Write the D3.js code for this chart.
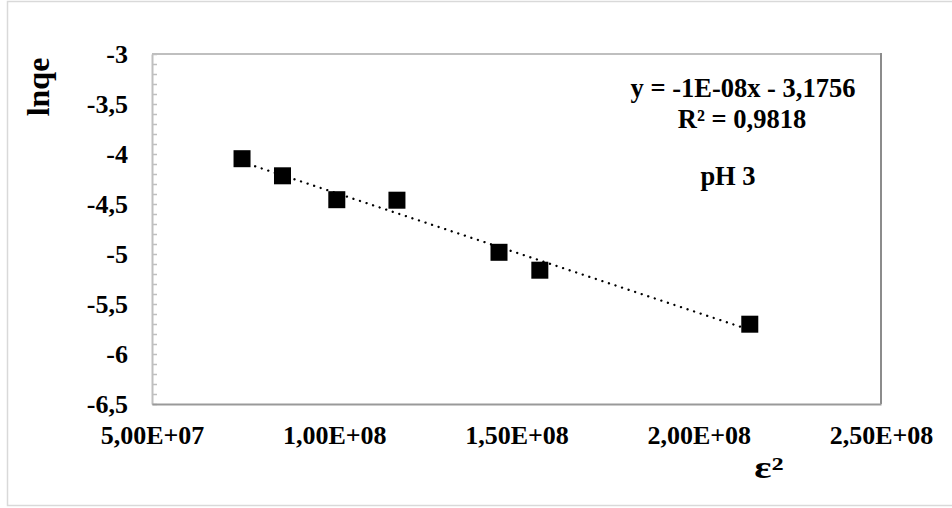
<!DOCTYPE html>
<html>
<head>
<meta charset="utf-8">
<script src="https://cdn.jsdelivr.net/npm/d3@7"></script>
<style>
  html, body { margin: 0; padding: 0; background: #fff; }
  svg { display: block; }
</style>
</head>
<body>
<svg id="chart" width="952" height="508"></svg>
<script>
// Dubinin–Radushkevich plot at pH 3: ln qe against epsilon squared
const epsSquared = [7.47e7, 8.58e7, 1.007e8, 1.172e8, 1.452e8, 1.564e8, 2.14e8];
const lnQe       = [-4.047, -4.218, -4.457, -4.462, -4.983, -5.162, -5.702];

const xTickValues = [5e7, 1e8, 1.5e8, 2e8, 2.5e8];
const xTickLabels = ["5,00E+07", "1,00E+08", "1,50E+08", "2,00E+08", "2,50E+08"];
const yTickValues = [-3, -3.5, -4, -4.5, -5, -5.5, -6, -6.5];
const yTickLabels = ["-3", "-3,5", "-4", "-4,5", "-5", "-5,5", "-6", "-6,5"];
const yMinorValues = d3.range(-65, -29).map(v => v / 10);

const equationText = "y = -1E-08x - 3,1756";
const r2Text = "R² = 0,9818";
const seriesLabel = "pH 3";

const FONT = "'Liberation Serif', 'Times New Roman', serif";
const svg = d3.select("#chart");

// outer chart frame
svg.append("rect")
  .attr("x", 7.5).attr("y", 1.5).attr("width", 960).attr("height", 504)
  .attr("fill", "#fff").attr("stroke", "#d9d9d9").attr("stroke-width", 1.5);

const plot = { left: 152, right: 881, top: 54, bottom: 404 };

const x = d3.scaleLinear().domain([5e7, 2.5e8]).range([plot.left, plot.right]);
const y = d3.scaleLinear().domain([-6.5, -3]).range([plot.bottom, plot.top]);

// plot area borders
svg.append("line").attr("x1", plot.left).attr("x2", plot.right)
  .attr("y1", plot.top).attr("y2", plot.top)
  .attr("stroke", "#bfbfbf").attr("stroke-width", 2);
svg.append("line").attr("x1", plot.right).attr("x2", plot.right)
  .attr("y1", plot.top - 1).attr("y2", plot.bottom)
  .attr("stroke", "#8c8c8c").attr("stroke-width", 2);

// minor ticks, pointing into the plot area
const minorAxis = svg.append("g")
  .attr("transform", `translate(${plot.left},0)`)
  .call(d3.axisRight(y).tickValues(yMinorValues).tickSize(5).tickFormat(""));
minorAxis.select(".domain").remove();
minorAxis.selectAll(".tick line").attr("stroke", "#bfbfbf").attr("stroke-width", 1.5);

// y axis with labels
const yAxis = svg.append("g")
  .attr("transform", `translate(${plot.left},0)`)
  .call(d3.axisLeft(y).tickValues(yTickValues).tickSize(0).tickPadding(24)
    .tickFormat((d, i) => yTickLabels[i]));
yAxis.attr("font-family", FONT).attr("font-size", 26).attr("font-weight", "bold");
yAxis.select(".domain").attr("stroke", "#bfbfbf").attr("stroke-width", 2);
yAxis.selectAll(".tick text").attr("fill", "#000").attr("dy", "0.34em");

// x axis with labels
const xAxis = svg.append("g")
  .attr("transform", `translate(0,${plot.bottom})`)
  .call(d3.axisBottom(x).tickValues(xTickValues).tickSize(0).tickPadding(40)
    .tickFormat((d, i) => xTickLabels[i]));
xAxis.attr("font-family", FONT).attr("font-size", 26).attr("font-weight", "bold");
xAxis.select(".domain").attr("stroke", "#999").attr("stroke-width", 2);
xAxis.selectAll(".tick text").attr("fill", "#000").attr("dy", 0);

// least-squares trend line through the points
const mx = d3.mean(epsSquared), my = d3.mean(lnQe);
const sxy = d3.sum(epsSquared, (v, i) => (v - mx) * (lnQe[i] - my));
const sxx = d3.sum(epsSquared, v => (v - mx) * (v - mx));
const slope = sxy / sxx, intercept = my - slope * mx;
const xExt = d3.extent(epsSquared);

svg.append("line")
  .attr("x1", x(xExt[0])).attr("y1", y(slope * xExt[0] + intercept))
  .attr("x2", x(xExt[1])).attr("y2", y(slope * xExt[1] + intercept))
  .attr("stroke", "#000").attr("stroke-width", 2.3)
  .attr("stroke-linecap", "round").attr("stroke-dasharray", "0.1 6.8");

// square markers
const size = 17;
svg.append("g").selectAll("rect")
  .data(epsSquared.map((v, i) => [v, lnQe[i]]))
  .join("rect")
  .attr("x", d => x(d[0]) - size / 2)
  .attr("y", d => y(d[1]) - size / 2)
  .attr("width", size).attr("height", size)
  .attr("fill", "#000");

// axis titles
const titles = svg.append("g")
  .attr("font-family", FONT).attr("font-weight", "bold").attr("fill", "#000");

titles.append("text")
  .attr("transform", "translate(49,87) rotate(-90)")
  .attr("text-anchor", "middle").attr("font-size", 32)
  .text("lnqe");

titles.append("text")
  .attr("transform", "translate(769,478) scale(1.3,1)")
  .attr("text-anchor", "middle").attr("font-size", 31)
  .text("ε²");

// regression annotation
const ann = svg.append("g")
  .attr("font-family", FONT).attr("font-weight", "bold").attr("fill", "#000")
  .attr("text-anchor", "middle").attr("font-size", 26.5);
ann.append("text").attr("x", 743).attr("y", 97).text(equationText);
ann.append("text").attr("x", 742).attr("y", 128).text(r2Text);
ann.append("text").attr("x", 728).attr("y", 185).text(seriesLabel);
</script>
</body>
</html>
